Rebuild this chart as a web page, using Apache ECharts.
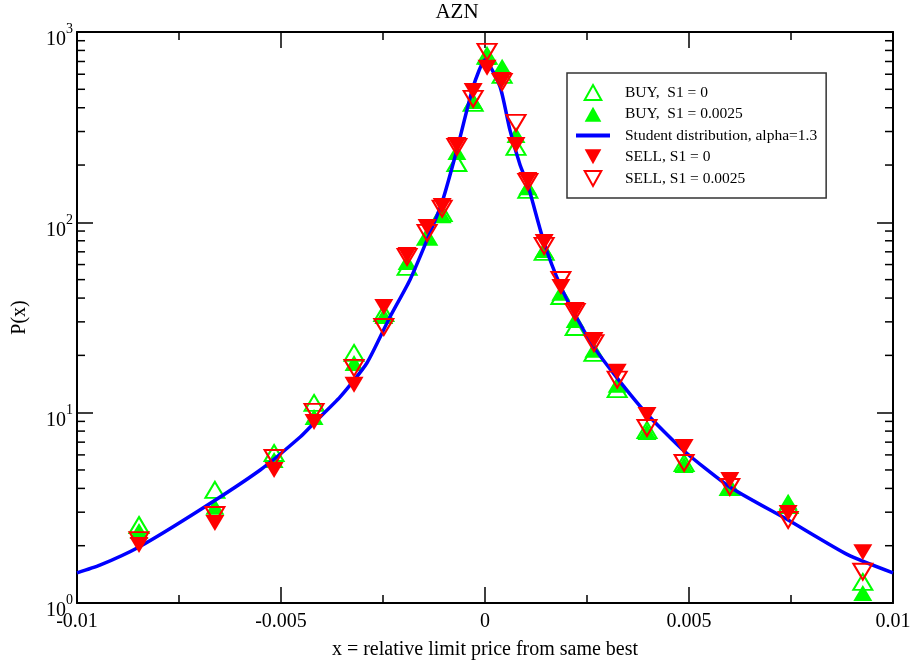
<!DOCTYPE html>
<html>
<head>
<meta charset="utf-8">
<script src="https://cdn.jsdelivr.net/npm/echarts@6/dist/echarts.min.js"></script>
<style>
  html, body { margin: 0; padding: 0; background: #fff; }
  #main { width: 914px; height: 660px; }
</style>
</head>
<body>
<div id="main"></div>
<script>
// x positions shared by the four measured series
var xs = [-0.00848, -0.00662, -0.00517, -0.00419, -0.00321, -0.00248, -0.00191, -0.00142, -0.00105, -0.00069,
  -0.00029, 0.00005, 0.00042, 0.00076, 0.00105, 0.00145, 0.00186, 0.00221, 0.00267, 0.00324,
  0.00397, 0.00488, 0.00600, 0.00743, 0.00926];

var buyOpen = [2.57, 3.93, 6.14, 11.25, 20.6, 33.4, 58.3, 83.8, 112, 205,
  424, 749, 595, 249, 148, 69.9, 41.0, 28.2, 20.6, 13.3,
  8.11, 5.44, 4.07, 3.27, 1.29];
var buyFilled = [2.39, 3.20, 5.64, 9.49, 18.25, 32.2, 61.9, 83.8, 109, 234,
  434, 740, 656, 288, 153, 71.6, 42.6, 30.7, 21.4, 14.0,
  7.92, 5.31, 4.07, 3.40, 1.13];
var sellFilled = [2.02, 2.63, 5.00, 8.93, 14.0, 35.9, 67.4, 94.6, 122, 255,
  490, 648, 560, 255, 167, 78.9, 45.8, 34.6, 24.1, 16.4,
  9.72, 6.60, 4.43, 2.97, 1.85];
var sellOpen = [2.14, 2.90, 5.78, 10.09, 17.2, 28.2, 65.8, 88.0, 118, 249,
  445, 786, 547, 333, 163, 75.2, 49.8, 33.8, 23.2, 14.9,
  8.31, 5.44, 4.07, 2.73, 1.46];

// student distribution curve
var curveX = [-0.01, -0.00944, -0.00848, -0.00699, -0.00551, -0.00453, -0.00419, -0.00355, -0.00289, -0.00233,
  -0.00184, -0.00142, -0.00105, -0.00069, -0.00029, 0, 0.00037, 0.00061, 0.00086, 0.00105,
  0.00145, 0.00186, 0.00221, 0.00267, 0.00324, 0.00397, 0.00488, 0.00600, 0.00743, 0.00890, 0.01];
var curveY = [1.44, 1.58, 1.97, 3.08, 5.00, 7.45, 8.83, 12.1, 18.3, 31.8,
  49.8, 80.8, 128, 240, 515, 714, 515, 306, 200, 157,
  77.9, 45.8, 32.6, 22.1, 15.2, 9.84, 6.29, 4.07, 2.73, 1.79, 1.44];

var xTicks = [-0.01, -0.005, 0, 0.005, 0.01];
var minorY = [2, 3, 4, 5, 6, 7, 8, 9, 20, 30, 40, 50, 60, 70, 80, 90, 200, 300, 400, 500, 600, 700, 800, 900];

var seriesNames = ['BUY,  S1 = 0', 'BUY,  S1 = 0.0025', 'Student distribution, alpha=1.3', 'SELL, S1 = 0', 'SELL, S1 = 0.0025'];

var upTri = 'path://M5,0 L10,9 L0,9 Z';
var downTri = 'path://M0,0 L10,0 L5,9 Z';
var FONT = 'Liberation Serif';

function pairs(x, y) {
  return x.map(function (v, i) { return [v, y[i]]; });
}

function xLabel(v) {
  if (v === 0) return '0';
  return String(Math.round(v * 1000) / 1000);
}

var myChart = echarts.init(document.getElementById('main'));

var axisLine = { show: true, onZero: false, lineStyle: { color: '#000', width: 2 } };
var tick = { show: true, inside: true, length: 16, lineStyle: { color: '#000', width: 1.5 } };
var minor = { show: true, splitNumber: 2, length: 8, lineStyle: { color: '#000', width: 1.5 } };

var option = {
  animation: false,
  backgroundColor: '#fff',
  textStyle: { fontFamily: FONT },
  title: {
    text: 'AZN',
    left: 'center',
    top: -3,
    textStyle: { fontFamily: FONT, fontWeight: 'normal', fontSize: 21, color: '#000' }
  },
  legend: {
    data: [
      { name: seriesNames[0] },
      { name: seriesNames[1] },
      { name: seriesNames[2], icon: 'path://M0,0 L34,0 L34,4 L0,4 Z' },
      { name: seriesNames[3] },
      { name: seriesNames[4] }
    ],
    orient: 'vertical',
    left: 567,
    top: 73,
    padding: [11, 9, 11, 9],
    itemGap: 5.25,
    itemWidth: 34,
    itemHeight: 15,
    backgroundColor: '#fff',
    borderColor: '#333',
    borderWidth: 1.5,
    borderRadius: 0,
    textStyle: { fontFamily: FONT, fontSize: 15.5, color: '#000', padding: [0, 0, 0, 10] }
  },
  grid: { left: 77, right: 21, top: 32, bottom: 57, outerBoundsMode: 'none' },
  xAxis: [
    {
      type: 'value',
      min: -0.01, max: 0.01, interval: 0.005,
      name: 'x = relative limit price from same best',
      nameLocation: 'middle',
      nameGap: 37,
      nameTextStyle: { fontFamily: FONT, fontSize: 20, color: '#000' },
      axisLine: axisLine,
      axisTick: tick,
      minorTick: minor,
      splitLine: { show: false },
      axisLabel: {
        fontFamily: FONT, fontSize: 20, color: '#000', margin: 9,
        customValues: xTicks,
        formatter: xLabel
      }
    },
    {
      type: 'value',
      position: 'top',
      min: -0.01, max: 0.01, interval: 0.005,
      axisLine: axisLine,
      axisTick: tick,
      minorTick: minor,
      splitLine: { show: false },
      axisLabel: { show: false }
    }
  ],
  yAxis: [
    {
      type: 'log',
      logBase: 10,
      min: 1, max: 1000,
      name: 'P(x)',
      nameLocation: 'middle',
      nameGap: 47,
      nameRotate: 90,
      nameTextStyle: { fontFamily: FONT, fontSize: 20, color: '#000' },
      axisLine: axisLine,
      axisTick: tick,
      splitLine: { show: false },
      axisLabel: {
        margin: 4,
        formatter: function (v) {
          return '{b|10}{s|' + Math.round(Math.log10(v)) + '}';
        },
        rich: {
          b: { fontFamily: FONT, fontSize: 20, color: '#000', padding: [16, 0, 0, 0] },
          s: { fontFamily: FONT, fontSize: 14, color: '#000', padding: [0, 0, 5, 0] }
        }
      }
    },
    {
      type: 'log',
      logBase: 10,
      min: 1, max: 1000,
      position: 'right',
      axisLine: axisLine,
      axisTick: tick,
      splitLine: { show: false },
      axisLabel: { show: false }
    }
  ],
  series: [
    {
      name: seriesNames[0],
      type: 'scatter',
      data: pairs(xs, buyOpen),
      symbol: upTri,
      symbolSize: [19, 16],
      itemStyle: { color: 'transparent', borderColor: '#00ff00', borderWidth: 2, opacity: 1 },
      z: 3
    },
    {
      name: seriesNames[1],
      type: 'scatter',
      data: pairs(xs, buyFilled),
      symbol: upTri,
      symbolSize: [19, 16],
      itemStyle: { color: '#00ff00', opacity: 1 },
      z: 3
    },
    {
      name: seriesNames[2],
      type: 'line',
      data: pairs(curveX, curveY),
      symbol: 'none',
      smooth: 0.2,
      lineStyle: { color: '#0000ff', width: 3.5 },
      itemStyle: { color: '#0000ff' },
      z: 4
    },
    {
      name: seriesNames[3],
      type: 'scatter',
      data: pairs(xs, sellFilled),
      symbol: downTri,
      symbolSize: [19, 16],
      itemStyle: { color: '#ff0000', opacity: 1 },
      z: 5
    },
    {
      name: seriesNames[4],
      type: 'scatter',
      data: pairs(xs, sellOpen),
      symbol: downTri,
      symbolSize: [19, 16],
      itemStyle: { color: 'transparent', borderColor: '#ff0000', borderWidth: 2, opacity: 1 },
      z: 5
    },
    {
      // log minor ticks on the left and right axes
      type: 'custom',
      silent: true,
      clip: false,
      z: 6,
      data: minorY.map(function (v) { return [-0.01, v]; }),
      renderItem: function (params, api) {
        var v = api.value(1);
        var l = api.coord([-0.01, v]);
        var r = api.coord([0.01, v]);
        var st = { stroke: '#000', lineWidth: 1.5 };
        return {
          type: 'group',
          children: [
            { type: 'line', shape: { x1: l[0], y1: l[1], x2: l[0] + 8, y2: l[1] }, style: st },
            { type: 'line', shape: { x1: r[0] - 8, y1: r[1], x2: r[0], y2: r[1] }, style: st }
          ]
        };
      }
    }
  ]
};

myChart.setOption(option);
</script>
</body>
</html>
